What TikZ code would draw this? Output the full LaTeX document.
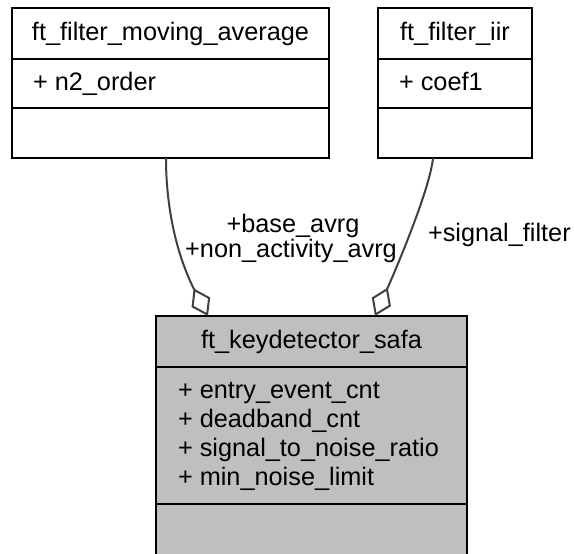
\documentclass[tikz,border=0pt]{standalone}
\usepackage{fontspec}
\setmainfont{Liberation Sans}
\usetikzlibrary{arrows.meta,calc}
\definecolor{conncol}{HTML}{404040}
\definecolor{mainfill}{HTML}{BFBFBF}
\tikzset{
  classbox/.style={draw=black, line width=2.4pt, inner sep=0pt, outer sep=0pt},
  divider/.style={draw=black, line width=2.4pt},
  txt/.style={inner sep=0pt, outer sep=0pt, font=\fontsize{25.3}{29}\selectfont},
  aggr/.style={draw=conncol, line width=2pt, -{Diamond[open, length=31pt, width=21pt]}},
}
\begin{document}
\begin{tikzpicture}[x=1pt, y=-1pt]
\useasboundingbox (0,0) rectangle (574,554);
% class boxes
\node[classbox, minimum width=317pt, minimum height=150pt] (b1) at (170.5,83) {};
\node[classbox, minimum width=154pt, minimum height=150pt] (b2) at (455,83) {};
\node[classbox, fill=mainfill, minimum width=311pt, minimum height=239pt] (b3) at (311.5,435.5) {};
% dividers
\draw[divider] (b1.west |- 0,59) -- (b1.east |- 0,59);
\draw[divider] (b1.west |- 0,108) -- (b1.east |- 0,108);
\draw[divider] (b2.west |- 0,59) -- (b2.east |- 0,59);
\draw[divider] (b2.west |- 0,108) -- (b2.east |- 0,108);
\draw[divider] (b3.west |- 0,367) -- (b3.east |- 0,367);
\draw[divider] (b3.west |- 0,504) -- (b3.east |- 0,504);
% texts
\node[txt, anchor=base] (t1) at (170.5,40.5) {ft\_filter\_moving\_average};
\node[txt, anchor=base west] (a1) at (33,90.5) {+ n2\_order};
\node[txt, anchor=base] (t2) at (455,40.5) {ft\_filter\_iir};
\node[txt, anchor=base west] (a2) at (399,90.5) {+ coef1};
\node[txt, anchor=base] (t3) at (311.5,348) {ft\_keydetector\_safa};
\node[txt, anchor=base west] (a3a) at (178,398) {+ entry\_event\_cnt};
\node[txt, anchor=base west] (a3b) at (178,427) {+ deadband\_cnt};
\node[txt, anchor=base west] (a3c) at (178,456) {+ signal\_to\_noise\_ratio};
\node[txt, anchor=base west] (a3d) at (178,485) {+ min\_noise\_limit};
% connector end points
\coordinate (e1s) at ($(b1.south west)+(154,0)$);
\coordinate (e1t) at ($(b3.north west)+(52,0)$);
\coordinate (e2s) at ($(b2.south west)+(55,0)$);
\coordinate (e2t) at ($(b3.north west)+(219,0)$);
% connectors
\draw[aggr] (e1s) .. controls (166,220) and (182,266) .. (e1t);
\draw[aggr] (e2s) .. controls (430,190) and (393,276) .. (e2t);
% labels
\node[txt, anchor=base] (l1a) at (293,232) {+base\_avrg};
\node[txt, anchor=base] (l1b) at (291,257.5) {+non\_activity\_avrg};
\node[txt, anchor=base west] (l2) at (428,241.7) {+signal\_filter};
\end{tikzpicture}
\end{document}
